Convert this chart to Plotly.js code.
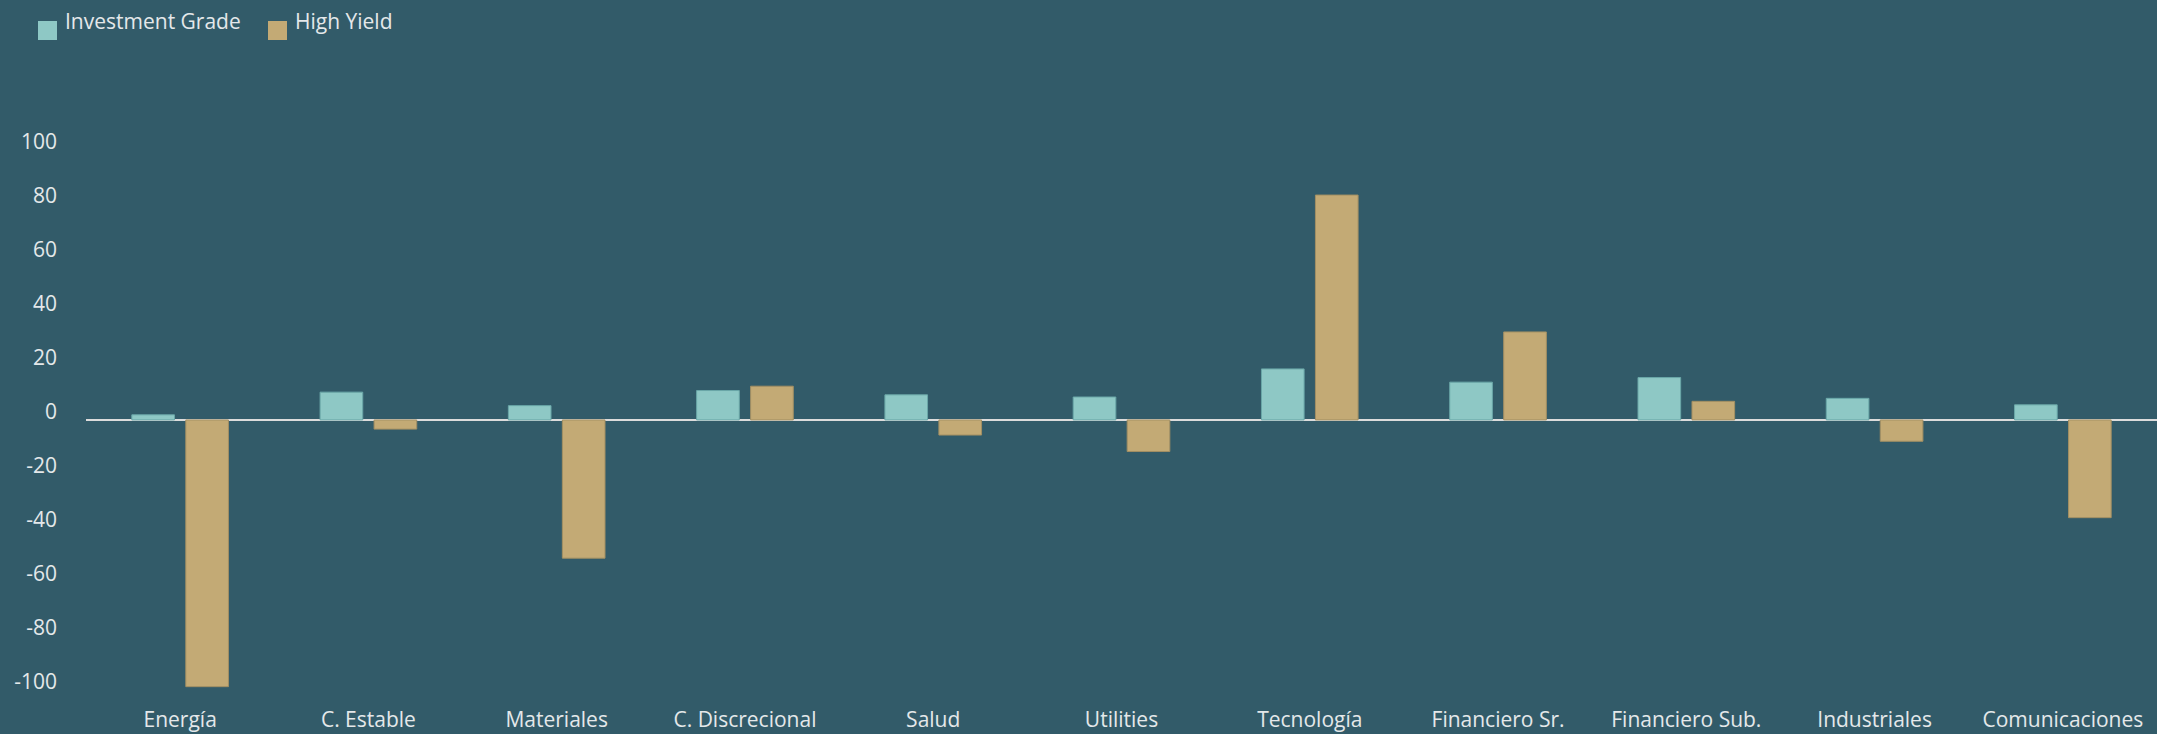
<!DOCTYPE html>
<html>
<head>
<meta charset="utf-8">
<script src="https://cdn.plot.ly/plotly-3.0.1.min.js"></script>
<style>
  html, body { margin: 0; padding: 0; background: #325b69; }
  #chart { width: 2157px; height: 734px; }
</style>
</head>
<body>
<div id="chart"></div>
<script>
const categories = ["Energía", "C. Estable", "Materiales", "C. Discrecional", "Salud", "Utilities", "Tecnología", "Financiero Sr.", "Financiero Sub.", "Industriales", "Comunicaciones"];
const investmentGrade = [1.9, 10.3, 5.3, 10.9, 9.3, 8.5, 18.9, 14.0, 15.7, 8.0, 5.6];
const highYield = [-98.8, -3.4, -51.2, 12.5, -5.6, -11.7, 83.3, 32.6, 6.9, -7.9, -36.2];
const yTicks = [-100, -80, -60, -40, -20, 0, 20, 40, 60, 80, 100];
const seriesNames = ["Investment Grade", "High Yield"];
const seriesColors = ["#8ec8c5", "#c3aa75"];
const seriesLines = ["#6aa7a8", "#a28f63"];

const bg = "#325b69";
const textColor = "#e4e8ea";
const fontFamily = "'Open Sans', 'Noto Sans', sans-serif";

const traces = seriesNames.map((name, i) => ({
  type: "bar", name: name, x: categories, y: i === 0 ? investmentGrade : highYield,
  marker: { color: seriesColors[i], line: { color: seriesLines[i], width: 1 } },
  showlegend: false
}));

// custom legend (larger swatches than Plotly's built-in bar legend symbol)
const legendSwatchX = [-48, 182];   // pixel offsets from plot-area left edge
const legendTextX = [-23, 207];
const shapes = seriesNames.map((name, i) => ({
  type: "rect", xref: "paper", yref: "paper",
  xsizemode: "pixel", ysizemode: "pixel", xanchor: 0, yanchor: 1,
  x0: legendSwatchX[i], x1: legendSwatchX[i] + 19, y0: 90, y1: 109,
  fillcolor: seriesColors[i], line: { width: 0 }
}));
const annotations = seriesNames.map((name, i) => ({
  text: name, xref: "paper", yref: "paper", x: 0, y: 1,
  xanchor: "left", yanchor: "middle", xshift: legendTextX[i], yshift: 109,
  showarrow: false, font: { family: fontFamily, size: 21, color: textColor }
}));

const layout = {
  width: 2157, height: 734,
  paper_bgcolor: bg, plot_bgcolor: bg,
  font: { family: fontFamily, color: textColor, size: 21 },
  margin: { l: 86, r: 0, t: 130, b: 26, pad: 0 },
  barmode: "group", bargap: 0.4265, bargroupgap: 0.21,
  showlegend: false,
  shapes: shapes,
  annotations: annotations,
  xaxis: {
    type: "category", showgrid: false, zeroline: false, showline: false,
    ticks: "", tickfont: { family: fontFamily, size: 21, color: textColor },
    ticklabelstandoff: -3, fixedrange: true
  },
  yaxis: {
    range: [-106.7, 107.4], tickvals: yTicks, ticktext: yTicks.map(String),
    showgrid: false, showline: false, ticks: "",
    zeroline: true, zerolinecolor: "#dcdcdc", zerolinewidth: 2,
    tickfont: { family: fontFamily, size: 21, color: textColor },
    ticklabelstandoff: 28, ticklabelshift: -8, fixedrange: true
  }
};

Plotly.newPlot("chart", traces, layout, { displayModeBar: false, staticPlot: true });
</script>
</body>
</html>
